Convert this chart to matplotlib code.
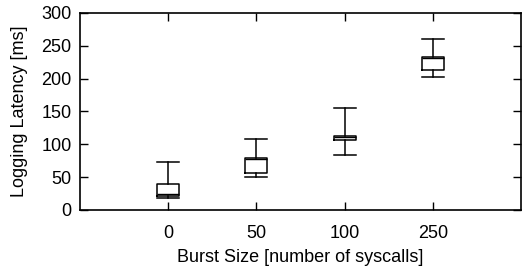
import matplotlib
matplotlib.use("Agg")
import matplotlib.pyplot as plt

plt.rcParams['font.family'] = ['Liberation Sans', 'DejaVu Sans']

# burst sizes and box statistics (ms)
bursts = ["0", "50", "100", "250"]
whislo = [18, 50, 83, 203]
q1 = [22, 57, 107, 213]
med = [25, 78, 111, 231]
q3 = [40, 79, 113, 233]
whishi = [73, 108, 155, 260]

stats = []
for i in range(len(bursts)):
    stats.append(dict(whislo=whislo[i], q1=q1[i], med=med[i],
                      q3=q3[i], whishi=whishi[i], fliers=[]))

fig = plt.figure(figsize=(5.22, 2.69), dpi=100)
ax = fig.add_axes([80 / 522, 1 - 210 / 269, 441 / 522, 197 / 269])

pos = list(range(1, len(bursts) + 1))
ax.bxp(stats, positions=pos, widths=0.25, showfliers=False,
       boxprops=dict(color="black", lw=1.1),
       whiskerprops=dict(color="black", lw=1.1),
       capprops=dict(color="black", lw=1.1),
       medianprops=dict(color="black", lw=1.0),
       capwidths=0.25)

ax.set_xlim(0, 5)
ax.set_ylim(0, 300)
ax.set_xticks(pos)
ax.set_xticklabels(bursts)
ax.set_yticks(range(0, 301, 50))
ax.tick_params(direction="in", top=True, right=True, length=6,
               labelsize=13, width=1)
ax.tick_params(axis="x", pad=11)
ax.tick_params(axis="y", pad=6)
for s in ax.spines.values():
    s.set_linewidth(1.2)

ax.set_xlabel("Burst Size [number of syscalls]", fontsize=13, labelpad=5)
ax.set_ylabel("Logging Latency [ms]", fontsize=13, labelpad=10)

fig.savefig("out.png", dpi=100)
